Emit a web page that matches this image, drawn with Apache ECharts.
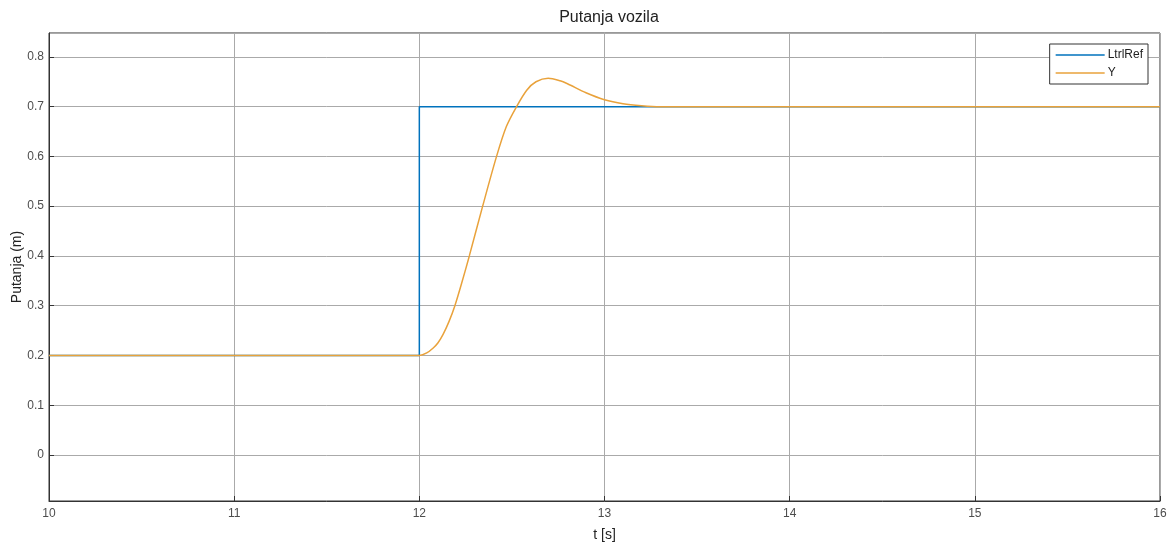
<!DOCTYPE html>
<html>
<head>
<meta charset="utf-8">
<script src="https://cdn.jsdelivr.net/npm/echarts@6/dist/echarts.min.js"></script>
<style>html,body{margin:0;padding:0;background:#fff;}#c{width:1174px;height:544px;}</style>
</head>
<body>
<div id="c"></div>
<script>
var title = 'Putanja vozila';
var xName = 't [s]';
var yName = 'Putanja (m)';
var seriesNames = ['LtrlRef', 'Y'];

var refT = [10, 12, 12, 16];
var refV = [0.2, 0.2, 0.7, 0.7];

var yT = [10, 11, 11.95, 12.0, 12.04, 12.075, 12.1, 12.129, 12.16, 12.192, 12.23, 12.27, 12.342, 12.417, 12.47, 12.525, 12.58, 12.63, 12.696, 12.76, 12.8, 12.9, 13.0, 13.1, 13.2, 13.3, 13.5, 14, 15, 16];
var yV = [0.2, 0.2, 0.2, 0.2, 0.205, 0.215, 0.225, 0.243, 0.268, 0.3, 0.347, 0.4, 0.5, 0.6, 0.66, 0.7, 0.733, 0.75, 0.757, 0.752, 0.746, 0.728, 0.714, 0.706, 0.702, 0.7, 0.7, 0.7, 0.7, 0.7];

function zip(a, b) { return a.map(function (v, i) { return [v, b[i]]; }); }

var FONT = 'Liberation Sans, Arial, sans-serif';
var chart = echarts.init(document.getElementById('c'));
var axisText = { color: '#4d4d4d', fontSize: 12, fontFamily: FONT };
chart.setOption({
  animation: false,
  backgroundColor: '#fff',
  title: {
    text: title, left: 604, textAlign: 'center', top: 5,
    textStyle: { fontSize: 16, fontWeight: 'normal', color: '#222', fontFamily: FONT }
  },
  grid: { left: 49, right: 14, top: 33, bottom: 43, show: true, borderColor: '#333', borderWidth: 1,
          containLabel: false, outerBoundsMode: 'none' },
  legend: {
    right: 26, top: 44, orient: 'vertical', icon: 'rect',
    backgroundColor: '#fff', borderColor: '#333', borderWidth: 1,
    padding: [3, 5, 3, 6], itemGap: 2, itemWidth: 49, itemHeight: 1.5,
    textStyle: { color: '#222', fontSize: 12, lineHeight: 16, padding: [0, 0, 0, -2], fontFamily: FONT },
    data: seriesNames
  },
  xAxis: {
    type: 'value', min: 10, max: 16, interval: 1,
    name: xName, nameLocation: 'middle', nameGap: 27, nameMoveOverlap: false,
    nameTextStyle: { fontSize: 14, color: '#222', fontFamily: FONT },
    axisLine: { show: true, onZero: false, lineStyle: { color: '#333' } },
    axisTick: { show: true, inside: true, length: 5, lineStyle: { color: '#333' } },
    axisLabel: Object.assign({ margin: 7 }, axisText),
    splitLine: { show: true, lineStyle: { color: '#aaa', width: 1 } }
  },
  yAxis: {
    type: 'value', min: -0.0925, max: 0.848, splitNumber: 9,
    name: yName, nameLocation: 'middle', nameGap: 25, nameMoveOverlap: false,
    nameTextStyle: { fontSize: 14, color: '#222', fontFamily: FONT },
    axisLine: { show: true, onZero: false, lineStyle: { color: '#333' } },
    axisTick: { show: true, inside: true, length: 5, lineStyle: { color: '#333' } },
    axisLabel: Object.assign({ margin: 5, showMinLabel: false, showMaxLabel: false,
      formatter: function (v) { return Math.abs(v) < 1e-9 ? '0' : (Math.round(v * 10) / 10).toString(); } }, axisText),
    splitLine: { show: true, lineStyle: { color: '#aaa', width: 1 } }
  },
  series: [
    { name: seriesNames[0], type: 'line', data: zip(refT, refV), showSymbol: false, symbol: 'none',
      lineStyle: { color: '#0072BD', width: 1.5 }, itemStyle: { color: '#0072BD' } },
    { name: seriesNames[1], type: 'line', data: zip(yT, yV), showSymbol: false, symbol: 'none',
      smooth: 0.3,
      lineStyle: { color: '#E9A23B', width: 1.5 }, itemStyle: { color: '#E9A23B' } }
  ]
});
</script>
</body>
</html>
